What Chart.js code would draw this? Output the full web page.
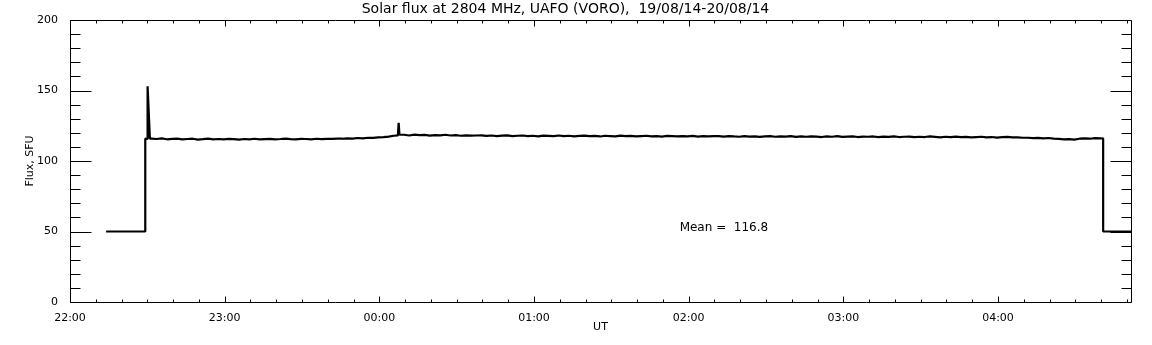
<!DOCTYPE html>
<html>
<head>
<meta charset="utf-8">
<script src="https://cdn.jsdelivr.net/npm/chart.js@4"></script>
<style>
  body { margin: 0; background: #fff; }
  #wrap { width: 1152px; height: 345px; position: relative; }
</style>
</head>
<body>
<div id="wrap"><canvas id="fluxChart"></canvas></div>
<script>
// time axis is in minutes after 22:00 UT
var hourLabels = ['22:00', '23:00', '00:00', '01:00', '02:00', '03:00', '04:00'];
var yTickValues = [0, 50, 100, 150, 200];

// calibration level before the sun is tracked, step up and first spike
var startTimes = [14.0, 29.2, 29.2, 30.0, 30.1, 31.0];
var startFlux = [50, 50, 115.9, 115.6, 153.0, 115.8];

// 2-minute samples, 31.6 .. 125.6
var traceAStart = 31.6;
var fluxBeforeSpike = [
  115.9, 115.6, 116.1, 115.4, 115.7, 115.9, 115.3, 115.6, 115.8, 115.2,
  115.5, 115.9, 115.4, 115.6, 115.3, 115.7, 115.5, 115.2, 115.6, 115.4,
  115.8, 115.3, 115.5, 115.7, 115.4, 115.6, 115.9, 115.5, 115.3, 115.7,
  115.6, 115.4, 115.8, 115.5, 115.7,
  115.7, 115.9, 115.8, 116.1, 115.9, 116.3, 116.1, 116.5, 116.4, 116.7,
  116.9, 117.3, 117.9
];

// small burst just after 00:00
var spikeTimes = [127.2, 127.5, 127.8];
var spikeFlux = [118.2, 127.0, 118.7];

// 2-minute samples, 129.6 .. 399.6
var traceBStart = 129.6;
var fluxAfterSpike = [
  118.6, 118.1, 118.7, 118.3, 118.5, 118.0, 118.4, 118.2, 118.6, 118.1,
  118.3, 117.9, 118.2, 118.0, 118.1,
  118.2, 117.8, 118.1, 117.7, 118.0, 118.2, 117.6, 117.9, 118.1, 117.7,
  117.9, 117.5, 118.0, 117.8, 117.6, 118.1, 117.7, 117.9, 117.5, 117.8,
  118.0, 117.6, 117.8, 117.4, 117.9, 117.7, 117.5, 118.0, 117.6, 117.8,
  117.4, 117.7, 117.9, 117.5, 117.7, 117.3, 117.8, 117.6, 117.4, 117.7,
  117.5, 117.8, 117.3, 117.6, 117.4, 117.7,
  117.6, 117.3, 117.7, 117.4, 117.2, 117.6, 117.3, 117.5, 117.1, 117.4,
  117.6, 117.2, 117.4, 117.3, 117.7, 117.1, 117.4, 117.2, 117.5, 117.3,
  117.0, 117.4, 117.2, 117.6, 117.1, 117.3, 117.5, 117.0, 117.3, 117.2,
  117.4, 116.9, 117.3, 117.1, 117.5, 117.0, 117.2, 117.3, 116.9, 117.2,
  117.0, 117.4, 117.1, 116.8, 117.2, 117.0, 117.3, 116.9, 117.1, 116.7,
  117.0, 117.2, 116.8, 117.0, 116.6, 116.9, 117.1, 116.7, 116.8, 116.5,
  116.5, 116.2, 116.4, 116.0, 116.3, 115.9, 115.7, 115.3, 115.5, 115.2,
  115.8, 116.0, 115.8, 116.2, 116.0
];

// drop back to the calibration level at the end
var endTimes = [400.8, 400.8, 411.6];
var endFlux = [116.0, 50, 50];

var sampleStep = 2;
var meanText = 'Mean =  116.8';

var points = [];
function addPairs(times, flux) {
  for (var i = 0; i < times.length; i++) points.push({x: times[i], y: flux[i]});
}
function addTrace(start, flux) {
  for (var i = 0; i < flux.length; i++) points.push({x: start + i * sampleStep, y: flux[i]});
}
addPairs(startTimes, startFlux);
addTrace(traceAStart, fluxBeforeSpike);
addPairs(spikeTimes, spikeFlux);
addTrace(traceBStart, fluxAfterSpike);
addPairs(endTimes, endFlux);

Chart.defaults.font.family = 'DejaVu Sans';
Chart.defaults.font.size = 11;
Chart.defaults.color = '#000';

// IDL style frame with inward ticks on all four sides
var framePlugin = {
  id: 'frame',
  afterDraw: function(chart) {
    var c = chart.ctx, a = chart.chartArea;
    var xs = chart.scales.x, ys = chart.scales.y;
    var L = Math.round(a.left) + 0.5, R = Math.round(a.right) + 0.5;
    var T = Math.round(a.top) + 0.5, B = Math.round(a.bottom) + 0.5;
    c.save();
    c.strokeStyle = '#000';
    c.lineWidth = 1;
    c.beginPath();
    c.rect(L, T, R - L, B - T);
    for (var v = 0; v <= 410; v += 10) {
      var px = Math.round(xs.getPixelForValue(v)) + 0.5;
      var len = v % 60 === 0 ? 6 : 3;
      c.moveTo(px, B); c.lineTo(px, B - len);
      c.moveTo(px, T); c.lineTo(px, T + len);
    }
    for (var f = 0; f <= 200; f += 10) {
      var py = Math.round(ys.getPixelForValue(f)) + 0.5;
      var ylen = f % 50 === 0 ? 21 : 10;
      c.moveTo(L, py); c.lineTo(L + ylen, py);
      c.moveTo(R, py); c.lineTo(R - ylen, py);
    }
    c.stroke();
    c.fillStyle = '#000';
    c.font = '12px "DejaVu Sans"';
    c.textAlign = 'left';
    c.textBaseline = 'middle';
    c.fillText(meanText, xs.getPixelForValue(236.5), ys.getPixelForValue(52.5));
    c.restore();
  }
};

var ctx = document.getElementById('fluxChart').getContext('2d');
var fluxChart = new Chart(ctx, {
  type: 'line',
  data: {
    datasets: [{
      data: points,
      borderColor: '#000',
      borderWidth: 2.2,
      borderJoinStyle: 'bevel',
      pointRadius: 0,
      tension: 0,
      fill: false
    }]
  },
  options: {
    responsive: true,
    maintainAspectRatio: false,
    animation: false,
    layout: { padding: { left: 0, right: 21, top: 0, bottom: 0 } },
    plugins: {
      legend: { display: false },
      tooltip: { enabled: false },
      title: {
        display: true,
        text: 'Solar flux at 2804 MHz, UAFO (VORO),  19/08/14-20/08/14',
        font: { size: 14, weight: 'normal' },
        color: '#000',
        padding: { top: 1, bottom: 2.2 }
      }
    },
    scales: {
      x: {
        type: 'linear',
        min: 0,
        max: 411.6,
        grid: { display: false },
        border: { display: false },
        ticks: {
          stepSize: 60,
          autoSkip: false,
          maxRotation: 0,
          padding: 2,
          callback: function(value) {
            return value % 60 === 0 ? hourLabels[value / 60] : '';
          }
        },
        title: { display: true, text: 'UT', padding: { top: 0, bottom: 11 } },
        afterFit: function(scale) { scale.height = 43; }
      },
      y: {
        min: 0,
        max: 200,
        grid: { display: false },
        border: { display: false },
        ticks: {
          stepSize: 50,
          padding: 4,
          callback: function(value) {
            return yTickValues.indexOf(value) >= 0 ? String(value) : '';
          }
        },
        title: { display: true, text: 'Flux, SFU', padding: { top: 24 } },
        afterFit: function(scale) { scale.width = 70; }
      }
    }
  },
  plugins: [framePlugin]
});
</script>
</body>
</html>
